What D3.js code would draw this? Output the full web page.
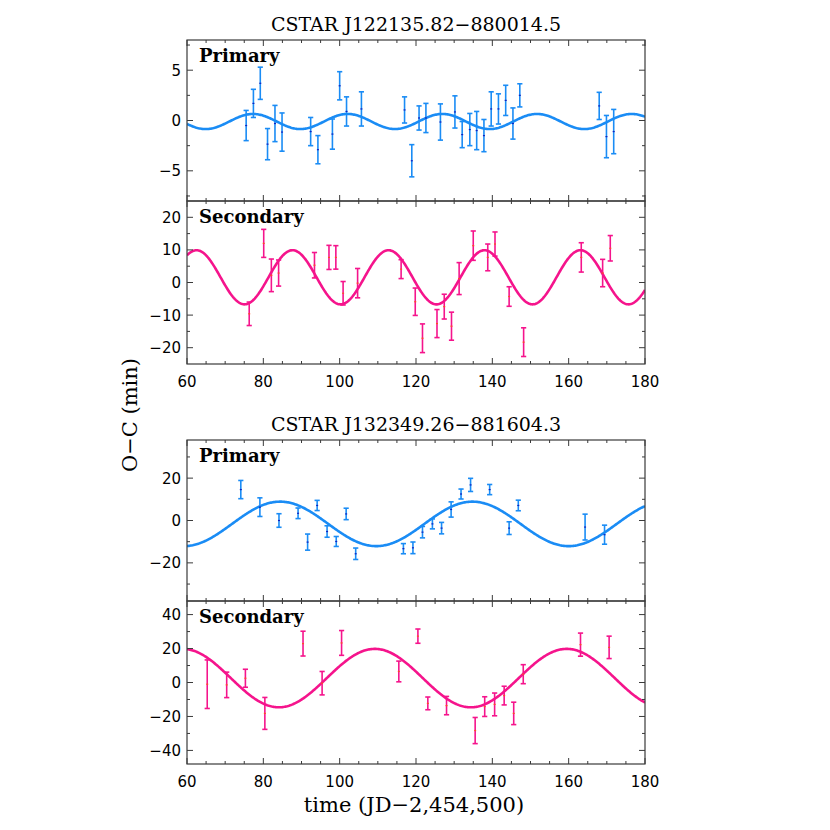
<!DOCTYPE html>
<html><head><meta charset="utf-8">
<script src="https://cdn.jsdelivr.net/npm/d3@7"></script>
<style>body{margin:0;background:#fff}</style>
</head><body>
<svg id="chart" width="830" height="830"></svg>
<script>
// ---------------- DATA ----------------
const starNames = ["CSTAR J122135.82\u2212880014.5", "CSTAR J132349.26\u2212881604.3"];
const xTickValues = [60, 80, 100, 120, 140, 160, 180];
const xMinorStep = 5;

// Star 1 – primary minima
const s1PrimT   = [75.5,77.4,79.2,81.1,83.05,84.9,92.4,94.3,98.1,100.0,101.8,105.7,117.0,118.9,120.8,122.6,126.4,130.2,132.1,134.1,135.9,137.8,139.7,141.6,143.5,145.4,147.2,168.0,169.9,171.8];
const s1PrimOC  = [-0.5,1.7,3.7,-2.35,-0.3,-1.15,-1.1,-2.9,-1.35,3.45,0.9,1.15,1.05,-4.0,0.25,0.25,-0.15,0.85,-1.4,-0.9,-1.0,-1.5,1.15,1.15,2.0,-0.3,2.5,1.45,-1.6,-1.1];
const s1PrimErr = [1.5,1.4,1.6,1.55,1.8,1.9,1.4,1.4,1.5,1.4,1.45,1.7,1.3,1.6,1.2,1.45,1.8,1.6,1.3,1.6,1.9,1.6,1.7,1.5,1.5,1.55,1.15,1.35,2.1,2.2];
// Star 1 – secondary minima
const s1SecT    = [76.3,80.1,82.1,84.0,93.4,97.2,99.0,100.9,104.7,116.1,119.8,121.7,125.5,127.4,129.3,131.3,135.0,138.8,140.7,144.4,148.2,163.3,168.9,170.9];
const s1SecOC   = [-9.6,12.0,2.2,2.9,5.3,7.7,7.7,-3.3,-0.2,4.1,-5.9,-17.1,-12.6,-7.4,-13.4,1.2,11.3,7.7,11.8,-4.3,-18.3,7.7,2.9,10.5];
const s1SecErr  = [3.6,4.3,5.0,4.0,3.9,3.7,3.6,3.6,4.5,2.9,4.2,4.4,4.3,3.8,4.3,4.9,4.5,4.1,3.7,3.0,4.4,4.5,4.2,3.9];
// Star 2 – primary minima
const s2PrimT   = [74.1,79.1,84.1,89.1,91.6,94.1,96.7,99.1,101.7,104.2,116.7,119.2,121.7,124.3,126.7,129.2,131.8,134.3,139.3,144.4,146.8,164.3,169.4];
const s2PrimOC  = [14.6,6.3,0.0,3.4,-10.2,7.1,-5.2,-9.9,3.1,-15.7,-13.3,-12.9,-5.5,-1.6,-3.6,5.2,12.5,16.8,14.6,-3.6,7.1,-3.1,-6.7];
const s2PrimErr = [4.3,4.4,3.2,2.5,3.8,2.4,2.7,2.35,2.7,2.7,2.4,2.75,2.7,2.35,2.7,3.6,2.35,3.1,2.4,3.0,2.5,6.1,4.5];
// Star 2 – secondary minima
const s2SecT    = [65.3,70.4,75.3,80.4,90.4,95.4,100.5,115.5,120.5,123.1,128.0,135.5,138.0,140.6,143.1,145.6,148.1,163.1,170.6];
const s2SecOC   = [-1.0,-1.4,2.5,-18.2,22.9,-0.4,23.3,6.5,27.3,-12.3,-13.6,-28.3,-14.2,-12.9,-7.7,-18.2,4.9,22.3,20.7];
const s2SecErr  = [14.3,7.5,5.3,9.4,7.3,6.9,7.3,6.1,4.2,3.75,5.4,7.7,5.8,6.7,5.5,6.6,5.6,6.8,6.6];

// Sinusoidal fits: [amplitude, period, time of maximum, offset]
const s1PrimFit = [0.75, 24.8, 77.3, -0.1];
const s1SecFit  = [8.3, 25.15, 62.5, 1.6];
const s2PrimFit = [10.5, 50.4, 84.4, -1.6];
const s2SecFit  = [17.2, 50.3, 109.2, 2.6];

// Y axes
const s1PrimYDomain = [-8, 8],   s1PrimYTicks = [-5, 0, 5],            s1PrimYMinor = 2.5;
const s1SecYDomain  = [-25, 25], s1SecYTicks  = [-20, -10, 0, 10, 20], s1SecYMinor  = 5;
const s2PrimYDomain = [-38, 38], s2PrimYTicks = [-20, 0, 20],          s2PrimYMinor = 10;
const s2SecYDomain  = [-48, 48], s2SecYTicks  = [-40, -20, 0, 20, 40], s2SecYMinor  = 10;

// ---------------- LAYOUT ----------------
const svg = d3.select("#chart");
const X0 = 187, X1 = 645;
const x = d3.scaleLinear().domain([60, 180]).range([X0, X1]);
const BLUE = "#1a8cf5", PINK = "#f5148c";
const serif = "'DejaVu Serif', serif";
const sans = "'DejaVu Sans', sans-serif";

const panels = [
  {label:"Primary",   t:s1PrimT, v:s1PrimOC, e:s1PrimErr, fit:s1PrimFit, dom:s1PrimYDomain, ticks:s1PrimYTicks, minor:s1PrimYMinor, y0:40,  y1:201, color:BLUE, dot:"#1020c0", xlabels:false},
  {label:"Secondary", t:s1SecT,  v:s1SecOC,  e:s1SecErr,  fit:s1SecFit,  dom:s1SecYDomain,  ticks:s1SecYTicks,  minor:s1SecYMinor,  y0:201, y1:364, color:PINK, dot:"#ff5020", xlabels:true},
  {label:"Primary",   t:s2PrimT, v:s2PrimOC, e:s2PrimErr, fit:s2PrimFit, dom:s2PrimYDomain, ticks:s2PrimYTicks, minor:s2PrimYMinor, y0:440, y1:601, color:BLUE, dot:"#1020c0", xlabels:false},
  {label:"Secondary", t:s2SecT,  v:s2SecOC,  e:s2SecErr,  fit:s2SecFit,  dom:s2SecYDomain,  ticks:s2SecYTicks,  minor:s2SecYMinor,  y0:601, y1:764, color:PINK, dot:"#ff5020", xlabels:true}
];

const defs = svg.append("defs");
const axisColor = "#3a3a3a";

panels.forEach((p, i) => {
  const y = d3.scaleLinear().domain(p.dom).range([p.y1, p.y0]);
  const g = svg.append("g");
  const clipId = "clip" + i;
  defs.append("clipPath").attr("id", clipId).append("rect")
    .attr("x", X0).attr("y", p.y0).attr("width", X1 - X0).attr("height", p.y1 - p.y0);

  // fitted curve
  const [A, P, tmax, c] = p.fit;
  const ts = d3.range(60, 180.01, 0.25);
  const line = d3.line().x(t => x(t)).y(t => y(c + A * Math.cos(2 * Math.PI * (t - tmax) / P)));
  g.append("path").attr("clip-path", `url(#${clipId})`).datum(ts)
    .attr("d", line).attr("fill", "none").attr("stroke", p.color).attr("stroke-width", 2.6);

  // error bars
  const pts = p.t.map((t, k) => ({t, v: p.v[k], e: p.e[k]}));
  const eb = g.append("g").attr("clip-path", `url(#${clipId})`);
  pts.forEach(d => {
    const cx = x(d.t), yt = y(d.v + d.e), yb = y(d.v - d.e);
    eb.append("line").attr("x1", cx).attr("x2", cx).attr("y1", yt).attr("y2", yb)
      .attr("stroke", p.color).attr("stroke-width", 1.6);
    [yt, yb].forEach(yy => eb.append("line").attr("x1", cx - 2.6).attr("x2", cx + 2.6).attr("y1", yy).attr("y2", yy)
      .attr("stroke", p.color).attr("stroke-width", 1.6));
    eb.append("rect").attr("x", cx - 1).attr("y", y(d.v) - 0.6).attr("width", 2).attr("height", 1.2).attr("fill", p.dot);
  });

  // frame
  g.append("rect").attr("x", X0).attr("y", p.y0).attr("width", X1 - X0).attr("height", p.y1 - p.y0)
    .attr("fill", "none").attr("stroke", axisColor).attr("stroke-width", 1.2);

  // x ticks (top & bottom, inward)
  const xMinor = d3.range(60, 180.01, xMinorStep);
  xMinor.forEach(t => {
    const major = xTickValues.includes(t);
    const L = major ? 6 : 3;
    g.append("line").attr("x1", x(t)).attr("x2", x(t)).attr("y1", p.y1).attr("y2", p.y1 - L).attr("stroke", axisColor).attr("stroke-width", 1);
    g.append("line").attr("x1", x(t)).attr("x2", x(t)).attr("y1", p.y0).attr("y2", p.y0 + L).attr("stroke", axisColor).attr("stroke-width", 1);
  });
  // y ticks
  const ymin = Math.ceil(p.dom[0] / p.minor) * p.minor;
  const yMinorVals = d3.range(ymin, p.dom[1] + 1e-9, p.minor).filter(v => v > p.dom[0] && v < p.dom[1]);
  yMinorVals.forEach(v => {
    const major = p.ticks.includes(v);
    const L = major ? 6 : 3;
    g.append("line").attr("x1", X0).attr("x2", X0 + L).attr("y1", y(v)).attr("y2", y(v)).attr("stroke", axisColor).attr("stroke-width", 1);
    g.append("line").attr("x1", X1).attr("x2", X1 - L).attr("y1", y(v)).attr("y2", y(v)).attr("stroke", axisColor).attr("stroke-width", 1);
  });
  // y tick labels
  p.ticks.forEach(v => {
    g.append("text").attr("x", X0 - 6).attr("y", y(v) + 5.5).attr("text-anchor", "end")
      .attr("font-family", sans).attr("font-size", 15).attr("fill", "#000")
      .text(v < 0 ? "\u2212" + Math.abs(v) : v);
  });
  // x tick labels
  if (p.xlabels) {
    xTickValues.forEach(t => {
      g.append("text").attr("x", x(t)).attr("y", p.y1 + 23).attr("text-anchor", "middle")
        .attr("font-family", sans).attr("font-size", 15).attr("fill", "#000").text(t);
    });
  }
  // panel label
  g.append("text").attr("x", X0 + 12).attr("y", p.y0 + 22)
    .attr("font-family", serif).attr("font-weight", "bold").attr("font-size", 18).attr("fill", "#000").text(p.label);
});

// titles
svg.append("text").attr("x", 416).attr("y", 31).attr("text-anchor", "middle")
  .attr("font-family", serif).attr("font-size", 19).attr("fill", "#000").text(starNames[0]);
svg.append("text").attr("x", 416).attr("y", 431).attr("text-anchor", "middle")
  .attr("font-family", serif).attr("font-size", 19).attr("fill", "#000").text(starNames[1]);

// axis titles
svg.append("text").attr("x", 414).attr("y", 812).attr("text-anchor", "middle")
  .attr("font-family", serif).attr("font-size", 21).attr("fill", "#000").text("time (JD\u22122,454,500)");
svg.append("text").attr("transform", "translate(137,415) rotate(-90)").attr("text-anchor", "middle")
  .attr("font-family", serif).attr("font-size", 21).attr("fill", "#000").text("O\u2212C (min)");
</script>
</body></html>
